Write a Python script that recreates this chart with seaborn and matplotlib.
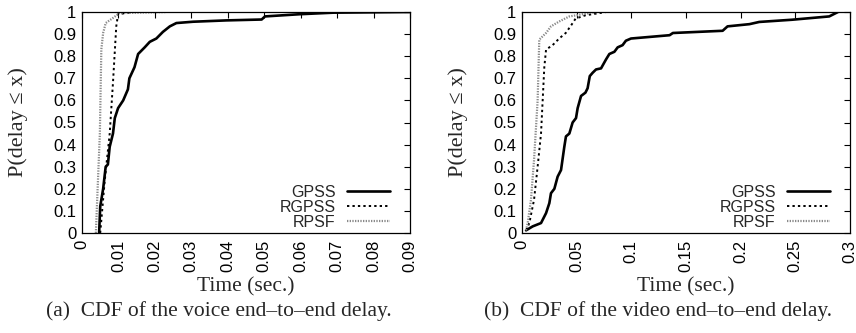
import matplotlib
matplotlib.use("Agg")
import matplotlib.pyplot as plt
import seaborn as sns
import pandas as pd

# ---- data ----
voice_gpss_x = [0.0047, 0.0050, 0.0058, 0.0065, 0.0071, 0.0076, 0.0085, 0.0090, 0.0099, 0.0113,
                0.0126, 0.0130, 0.0144, 0.0154, 0.0172, 0.0186, 0.0204, 0.0222, 0.0241, 0.0259,
                0.0305, 0.0396, 0.0493, 0.0502, 0.0598, 0.0690, 0.0900]
voice_gpss_y = [0.0, 0.12, 0.20, 0.30, 0.31, 0.39, 0.45, 0.52, 0.565, 0.60,
                0.65, 0.70, 0.75, 0.81, 0.84, 0.865, 0.88, 0.91, 0.935, 0.95,
                0.956, 0.962, 0.966, 0.98, 0.99, 0.997, 1.0]
voice_rgpss_x = [0.0050, 0.0062, 0.0076, 0.0085, 0.0094, 0.0099, 0.0140]
voice_rgpss_y = [0.0, 0.23, 0.45, 0.68, 0.935, 0.99, 1.0]
voice_rpsf_x = [0.0038, 0.0049, 0.0053, 0.0058, 0.0065, 0.0085, 0.0103, 0.0230]
voice_rpsf_y = [0.0, 0.45, 0.83, 0.905, 0.95, 0.973, 0.995, 1.0]

video_gpss_x = [0.0037, 0.0098, 0.0174, 0.022, 0.025, 0.0265, 0.0296, 0.0326, 0.0357, 0.0387,
                0.0402, 0.0433, 0.0463, 0.0494, 0.0509, 0.054, 0.058, 0.060, 0.062, 0.0646,
                0.0677, 0.0723, 0.0768, 0.0799, 0.0845, 0.0875, 0.092, 0.095, 0.0997, 0.135,
                0.138, 0.1835, 0.188, 0.208, 0.217, 0.247, 0.281, 0.289]
video_gpss_y = [0.012, 0.03, 0.045, 0.09, 0.135, 0.18, 0.20, 0.255, 0.285, 0.39,
                0.437, 0.45, 0.50, 0.52, 0.565, 0.62, 0.635, 0.655, 0.71, 0.725,
                0.74, 0.745, 0.785, 0.81, 0.82, 0.84, 0.85, 0.87, 0.88, 0.895,
                0.905, 0.915, 0.935, 0.945, 0.955, 0.965, 0.98, 1.0]
video_rgpss_x = [0.0037, 0.0067, 0.011, 0.0143, 0.0174, 0.0204, 0.022, 0.028, 0.034, 0.040,
                 0.045, 0.049, 0.058, 0.077]
video_rgpss_y = [0.012, 0.045, 0.15, 0.30, 0.45, 0.75, 0.83, 0.85, 0.88, 0.905,
                 0.94, 0.97, 0.985, 1.0]
video_rpsf_x = [0.0037, 0.0052, 0.0082, 0.011, 0.0143, 0.0158, 0.022, 0.0265, 0.034, 0.0433,
                0.052, 0.068]
video_rpsf_y = [0.012, 0.045, 0.15, 0.33, 0.60, 0.875, 0.905, 0.935, 0.957, 0.98,
                0.987, 1.0]

series_names = ["GPSS", "RGPSS", "RPSF"]
voice_xticks = [0, 0.01, 0.02, 0.03, 0.04, 0.05, 0.06, 0.07, 0.08, 0.09]
voice_xticklabels = ["0", "0.01", "0.02", "0.03", "0.04", "0.05", "0.06", "0.07", "0.08", "0.09"]
video_xticks = [0, 0.05, 0.1, 0.15, 0.2, 0.25, 0.3]
video_xticklabels = ["0", "0.05", "0.1", "0.15", "0.2", "0.25", "0.3"]
yticks = [0, 0.1, 0.2, 0.3, 0.4, 0.5, 0.6, 0.7, 0.8, 0.9, 1]
yticklabels = ["0", "0.1", "0.2", "0.3", "0.4", "0.5", "0.6", "0.7", "0.8", "0.9", "1"]
captions = ["(a)  CDF of the voice end\u2013to\u2013end delay.",
            "(b)  CDF of the video end\u2013to\u2013end delay."]

sns.set_theme(style="white")
plt.rcParams["font.family"] = ["Liberation Sans", "DejaVu Sans"]

styles = {
    "GPSS": dict(color="black", linewidth=1.9, linestyle="-"),
    "RGPSS": dict(color="black", linewidth=1.4, linestyle=(0, (1.2, 1.6))),
    "RPSF": dict(color="#8a8a8a", linewidth=1.6, linestyle=(0, (0.6, 0.6))),
}

fig = plt.figure(figsize=(8.56, 3.33), dpi=100)
ax1 = fig.add_axes([82 / 856, 100 / 333, 328 / 856, 221 / 333])
ax2 = fig.add_axes([522 / 856, 100 / 333, 328 / 856, 221 / 333])

panels = [
    (ax1, [(voice_gpss_x, voice_gpss_y), (voice_rgpss_x, voice_rgpss_y), (voice_rpsf_x, voice_rpsf_y)],
     voice_xticks, voice_xticklabels, 0.09),
    (ax2, [(video_gpss_x, video_gpss_y), (video_rgpss_x, video_rgpss_y), (video_rpsf_x, video_rpsf_y)],
     video_xticks, video_xticklabels, 0.3),
]

serif = ["Liberation Serif", "DejaVu Serif"]
for i, (ax, data, xt, xtl, xmax) in enumerate(panels):
    for name, (xs, ys) in zip(series_names, data):
        df = pd.DataFrame({"x": xs, "y": ys})
        sns.lineplot(data=df, x="x", y="y", ax=ax, sort=False, estimator=None,
                     label=name, **styles[name])
    ax.set_xlim(0, xmax)
    ax.set_ylim(0, 1)
    ax.set_xticks(xt)
    ax.set_xticklabels(xtl, rotation=90, fontsize=12)
    ax.set_yticks(yticks)
    ax.set_yticklabels(yticklabels, fontsize=12)
    ax.tick_params(direction="in", length=4, width=0.8, top=True, right=True, colors="black")
    ax.tick_params(axis="x", pad=5)
    ax.tick_params(axis="y", pad=4)
    for sp in ax.spines.values():
        sp.set_color("black")
        sp.set_linewidth(0.9)
    ax.set_xlabel("Time (sec.)", fontsize=15.5, family=serif, va="center")
    ax.xaxis.set_label_coords(0.5, -0.245)
    ax.set_ylabel("P(delay \u2264 x)", fontsize=16, family=serif, va="center")
    ax.yaxis.set_label_coords(-0.195, 0.5)
    leg = ax.legend(loc="lower right", frameon=False, markerfirst=False, fontsize=11.5,
                    handlelength=2.7, handletextpad=0.7, labelspacing=0.0,
                    borderaxespad=0.0, borderpad=0.0,
                    bbox_to_anchor=(1 - 20 / 328, 3 / 221))
    for t in leg.get_texts():
        t.set_ha("right")
    ax.grid(False)

fig.text(219 / 856, 1 - 311 / 333, captions[0], ha="center", va="center", fontsize=15.5, family=serif)
fig.text(658 / 856, 1 - 311 / 333, captions[1], ha="center", va="center", fontsize=15.5, family=serif)

fig.savefig("out.png", dpi=100)
